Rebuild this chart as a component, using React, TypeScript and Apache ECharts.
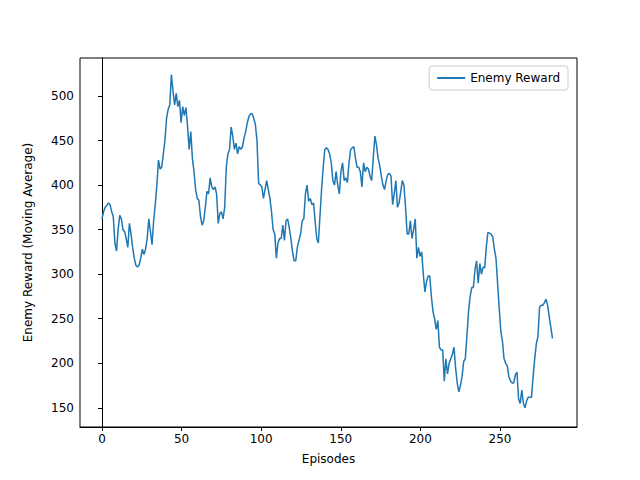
import React, { useEffect, useRef } from 'react';
import * as echarts from 'echarts';

// moving average of enemy reward per episode
const rewards = [
  362, 370, 375, 377, 380, 378, 370, 365, 335, 326,
  350, 366, 362, 350, 348, 340, 330, 357, 345, 330,
  318, 310, 308, 310, 318, 328, 322, 328, 340, 362,
  348, 333, 360, 378, 400, 428, 418, 420, 435, 450,
  475, 485, 490, 524, 505, 490, 503, 488, 495, 470,
  488, 478, 487, 466, 440, 460, 430, 415, 395, 385,
  383, 365, 355, 360, 375, 393, 390, 408, 398, 395,
  398, 390, 357, 368, 370, 362, 375, 420, 435, 440,
  465, 455, 440, 447, 435, 443, 440, 443, 453, 460,
  470, 477, 480, 480, 475, 468, 450, 402, 400, 398,
  385, 395, 405, 395, 385, 370, 350, 345, 318, 335,
  340, 340, 355, 338, 360, 362, 352, 340, 325, 315,
  315, 330, 338, 345, 360, 362, 390, 400, 382, 385,
  378, 380, 360, 340, 335, 365, 395, 420, 440, 442,
  440, 435, 425, 405, 400, 415, 400, 390, 415, 425,
  405, 408, 403, 425, 440, 442, 443, 430, 420, 420,
  415, 398, 425, 415, 420, 418, 410, 405, 430, 455,
  445, 430, 422, 410, 400, 395, 405, 412, 413, 410,
  378, 390, 405, 375, 380, 392, 405, 400, 375, 345,
  345, 360, 340, 350, 362, 318, 330, 320, 325, 300,
  280, 292, 298, 298, 275, 258, 250, 238, 248, 218,
  215, 215, 180, 205, 188, 200, 205, 210, 218, 195,
  178, 168, 175, 185, 202, 205, 230, 258, 275, 285,
  285, 305, 315, 290, 312, 300, 308, 307, 330, 347,
  346, 345, 342, 328, 318, 290, 262, 236, 225, 205,
  200, 197, 185, 180, 178, 178, 187, 190, 160, 155,
  170, 155, 150, 158, 162, 162, 162, 185, 205, 222,
  230, 263, 265, 265, 268, 272, 265, 252, 240, 228,
];
const xTicks = [0, 50, 100, 150, 200, 250];
const yTicks = [150, 200, 250, 300, 350, 400, 450, 500];

const App: React.FC = () => {
  const chartRef = useRef<HTMLDivElement>(null);

  useEffect(() => {
    document.body.style.margin = '0';
    if (!chartRef.current) return;
    const chart = echarts.init(chartRef.current, null, { renderer: 'svg' });
    const font = 'DejaVu Sans';
    chart.setOption({
      animation: false,
      textStyle: { fontFamily: font },
      grid: { left: 80, right: 63, top: 58, bottom: 53, show: true, borderColor: '#000', borderWidth: 1 },
      legend: {
        right: 72, top: 66,
        padding: [6, 8],
        borderColor: '#ccc', borderWidth: 1, borderRadius: 3,
        itemWidth: 28, itemHeight: 2,
        icon: 'rect',
        textStyle: { fontSize: 12, color: '#000', fontFamily: font },
        data: ['Enemy Reward'],
      },
      xAxis: {
        type: 'value', min: -13.8, max: 298.4,
        name: 'Episodes', nameLocation: 'middle', nameGap: 26,
        nameTextStyle: { fontSize: 12, color: '#000' },
        axisLine: { show: true, lineStyle: { color: '#000' } },
        axisTick: { show: true, customValues: xTicks, length: 4, inside: false, lineStyle: { color: '#000' } },
        axisLabel: { customValues: xTicks, color: '#000', fontSize: 12, margin: 6 },
        splitLine: { show: false },
      },
      yAxis: {
        type: 'value', min: 128.5, max: 542.6,
        name: 'Enemy Reward (Moving Average)', nameLocation: 'middle', nameGap: 46,
        nameTextStyle: { fontSize: 12, color: '#000' },
        axisLine: { show: true, lineStyle: { color: '#000' } },
        axisTick: { show: true, customValues: yTicks, length: 4, inside: false, lineStyle: { color: '#000' } },
        axisLabel: { customValues: yTicks, color: '#000', fontSize: 12, margin: 6 },
        splitLine: { show: false },
      },
      series: [{
        name: 'Enemy Reward',
        type: 'line',
        data: rewards.map((v, i) => [i * 283 / 279, v]),
        showSymbol: false,
        lineStyle: { color: '#1f77b4', width: 1.5 },
        itemStyle: { color: '#1f77b4' },
      }],
    });
    return () => chart.dispose();
  }, []);

  return <div ref={chartRef} style={{ width: 640, height: 480 }} />;
};

export default App;
